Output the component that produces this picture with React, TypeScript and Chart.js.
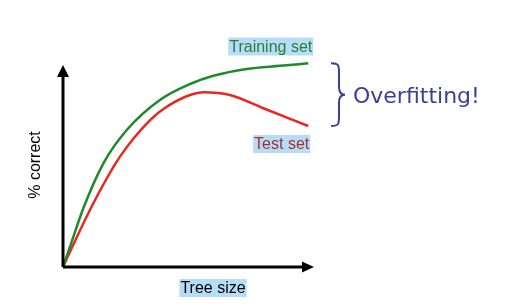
import React, { useEffect, useRef } from "react";
import { Chart, registerables } from "chart.js";

Chart.register(...registerables);

const trainSize = [0, 2.8, 8.1, 16.1, 25.4, 38.6, 50.6, 59.9, 73.2, 86.5, 97.7];
const trainCorrect = [0, 9.8, 28.4, 50.1, 66.2, 80.7, 88.4, 92.4, 95.7, 97.2, 98.4];
const testSize = [0, 2.8, 12.1, 22.7, 34.7, 41.3, 50.6, 55.9, 66.5, 79.8, 97.7];
const testCorrect = [0, 7.4, 30.8, 53.3, 71.0, 77.4, 83.1, 84.4, 83.1, 76.7, 68.1];
const seriesNames = ["Training set", "Test set"];
const xTitle = "Tree size";
const yTitle = "% correct";
const annotationText = "Overfitting!";

const overlay = {
  id: "overlay",
  afterDraw(chart: any) {
    const { ctx, chartArea } = chart;
    const { left, right, top, bottom } = chartArea;
    const xs = chart.scales.x;
    const ys = chart.scales.y;
    ctx.save();
    // axes
    ctx.strokeStyle = "#000";
    ctx.fillStyle = "#000";
    ctx.lineWidth = 3;
    ctx.beginPath();
    ctx.moveTo(left, bottom);
    ctx.lineTo(right - 10, bottom);
    ctx.moveTo(left, bottom);
    ctx.lineTo(left, top + 15);
    ctx.stroke();
    ctx.beginPath();
    ctx.moveTo(right, bottom);
    ctx.lineTo(right - 12, bottom - 5.5);
    ctx.lineTo(right - 12, bottom + 5.5);
    ctx.closePath();
    ctx.fill();
    ctx.beginPath();
    ctx.moveTo(left, top + 5);
    ctx.lineTo(left - 6, top + 17);
    ctx.lineTo(left + 6, top + 17);
    ctx.closePath();
    ctx.fill();

    const label = (text: string, x: number, y: number, color: string, bg: string, align: string) => {
      ctx.font = "16px 'Liberation Sans', Arial, sans-serif";
      const w = ctx.measureText(text).width;
      const x0 = align === "right" ? x - w : align === "center" ? x - w / 2 : x;
      ctx.fillStyle = bg;
      ctx.fillRect(x0 - 1, y - 9, w + 2, 18);
      ctx.fillStyle = color;
      ctx.textBaseline = "middle";
      ctx.textAlign = "left";
      ctx.fillText(text, x0, y + 1);
    };
    const lastX = xs.getPixelForValue(trainSize[trainSize.length - 1]);
    label(seriesNames[0], lastX + 4, 46.5, "#2e7d3a", "#b5ddf7", "right");
    label(seriesNames[1], lastX + 1, 144, "#ab2f2d", "#b5ddf7", "right");
    label(xTitle, 213, 288, "#000", "#b5ddf7", "center");

    // y title
    ctx.save();
    ctx.translate(36, 165);
    ctx.rotate(-Math.PI / 2);
    ctx.font = "16px 'Liberation Sans', Arial, sans-serif";
    ctx.fillStyle = "#000";
    ctx.textAlign = "center";
    ctx.textBaseline = "middle";
    ctx.fillText(yTitle, 0, 0);
    ctx.restore();

    // brace
    const yTop = ys.getPixelForValue(trainCorrect[trainCorrect.length - 1]);
    const yBot = ys.getPixelForValue(testCorrect[testCorrect.length - 1]);
    const yMid = (yTop + yBot) / 2;
    const bx = 331;
    const mx = 345;
    ctx.strokeStyle = "#3c3f9a";
    ctx.lineWidth = 2;
    ctx.beginPath();
    ctx.moveTo(bx, yTop);
    ctx.bezierCurveTo(bx + 8, yTop, bx + 8, yTop + 2, bx + 8, yTop + 10);
    ctx.lineTo(bx + 8, yMid - 8);
    ctx.bezierCurveTo(bx + 8, yMid - 2, mx - 4, yMid, mx, yMid);
    ctx.bezierCurveTo(mx - 4, yMid, bx + 8, yMid + 2, bx + 8, yMid + 8);
    ctx.lineTo(bx + 8, yBot - 10);
    ctx.bezierCurveTo(bx + 8, yBot - 2, bx + 8, yBot, bx, yBot);
    ctx.stroke();

    ctx.font = "22px 'Comic Sans MS', 'DejaVu Sans', sans-serif";
    ctx.fillStyle = "#3c3f9a";
    ctx.textAlign = "left";
    ctx.textBaseline = "alphabetic";
    ctx.fillText(annotationText, 353, 103);
    ctx.restore();
  },
};

export default function App() {
  const ref = useRef<HTMLCanvasElement>(null);
  useEffect(() => {
    if (!ref.current) return;
    const chart = new Chart(ref.current, {
      type: "line",
      data: {
        datasets: [
          {
            label: seriesNames[0],
            data: trainSize.map((x, i) => ({ x, y: trainCorrect[i] })),
            borderColor: "#1f8a2c",
            borderWidth: 2.5,
            pointRadius: 0,
            cubicInterpolationMode: "monotone",
          },
          {
            label: seriesNames[1],
            data: testSize.map((x, i) => ({ x, y: testCorrect[i] })),
            borderColor: "#e8281f",
            borderWidth: 2.5,
            pointRadius: 0,
            cubicInterpolationMode: "monotone",
          },
        ],
      },
      options: {
        animation: false,
        responsive: false,
        maintainAspectRatio: false,
        layout: { padding: { left: 63, right: 201, top: 60, bottom: 40 } },
        plugins: { legend: { display: false }, tooltip: { enabled: false } },
        scales: {
          x: { type: "linear", min: 0, max: 100, display: false },
          y: { type: "linear", min: 0, max: 100, display: false },
        },
      },
      plugins: [overlay],
    });
    return () => chart.destroy();
  }, []);
  return (
    <div style={{ position: "fixed", left: 0, top: 0, width: 515, height: 307, background: "#fff" }}>
      <canvas ref={ref} width={515} height={307} style={{ width: 515, height: 307 }} />
    </div>
  );
}
